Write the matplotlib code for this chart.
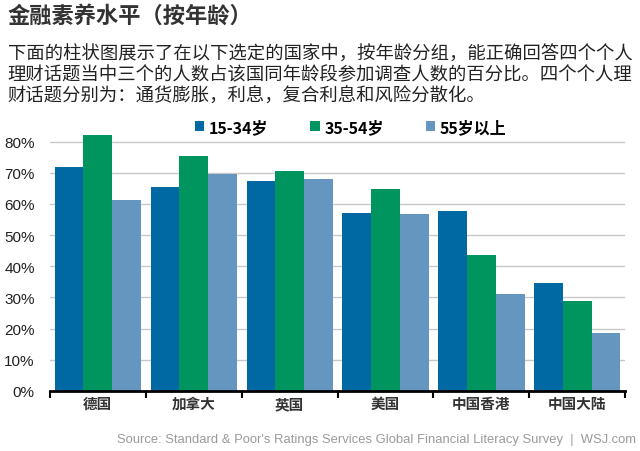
import numpy as np
import matplotlib
matplotlib.use("Agg")
import matplotlib.pyplot as plt
from matplotlib.patches import Patch

plt.rcParams['font.family'] = ['Liberation Sans', 'Noto Sans CJK SC', 'DejaVu Sans']

countries = ['德国', '加拿大', '英国', '美国', '中国香港', '中国大陆']
groups = ['15-34岁', '35-54岁', '55岁以上']
young = [72, 65.6, 67.3, 57, 57.7, 34.5]
middle = [82, 75.3, 70.7, 64.7, 43.6, 28.8]
older = [61.2, 69.6, 68, 56.9, 31.1, 18.7]
yticks = [0, 10, 20, 30, 40, 50, 60, 70, 80]

title = '金融素养水平（按年龄）'
subtitle = ('下面的柱状图展示了在以下选定的国家中，按年龄分组，能正确回答四个个人\n'
            '理财话题当中三个的人数占该国同年龄段参加调查人数的百分比。四个个人理\n'
            '财话题分别为：通货膨胀，利息，复合利息和风险分散化。')
source = "Source: Standard & Poor's Ratings Services Global Financial Literacy Survey  |  WSJ.com"

colors = ['#0069a3', '#00955f', '#6496bf']
cjk = ['Noto Sans CJK SC', 'DejaVu Sans']


def main():
    fig = plt.figure(figsize=(6.4, 4.52), dpi=100)
    ax = fig.add_axes([0.078, 0.133, 0.899, 0.572])

    x = np.arange(len(countries))
    w = 0.3
    for k, (vals, c) in enumerate(zip([young, middle, older], colors)):
        ax.bar(x + (k - 1) * w, vals, width=w, color=c, zorder=3)

    ax.set_xlim(-0.5, len(countries) - 0.5)
    ax.set_ylim(0, 83)
    ax.set_yticks(yticks)
    ax.set_yticklabels([f'{v}%' for v in yticks], fontsize=11, color='#222222')
    ax.yaxis.grid(True, color='#c8c8c8', linewidth=1, zorder=0)
    ax.tick_params(axis='y', length=0, pad=11)

    ax.set_xticks(x)
    ax.set_xticklabels(countries, family=cjk, fontsize=10.5, fontweight='bold', color='#333333')
    ax.set_xticks(np.arange(-0.5, len(countries), 1), minor=True)
    ax.tick_params(axis='x', which='major', length=0, pad=3)
    ax.tick_params(axis='x', which='minor', length=5, width=1.5, direction='out', color='black')

    for s in ['left', 'right', 'top']:
        ax.spines[s].set_visible(False)
    ax.spines['bottom'].set_linewidth(2)
    ax.spines['bottom'].set_zorder(4)

    handles = [Patch(facecolor=c, edgecolor='none') for c in colors]
    fig.legend(handles, groups, loc='center', bbox_to_anchor=(0.548, 0.717), ncol=3,
               frameon=False, handlelength=0.6, handleheight=0.6,
               handletextpad=0.3, columnspacing=2.6,
               prop={'family': cjk, 'size': 11.5, 'weight': 'bold'})

    fig.text(0.012, 0.965, title, family=cjk, fontsize=16, fontweight='bold',
             color='#333333', va='center', ha='left')
    fig.text(0.012, 0.9, subtitle, family=cjk, fontsize=13.2, color='#222222',
             va='top', ha='left', linespacing=1.22)
    fig.text(0.994, 0.027, source, fontsize=9.4, color='#9a9a9a', va='center', ha='right')

    fig.savefig('out.png', dpi=100, facecolor='white')


if __name__ == '__main__':
    main()
